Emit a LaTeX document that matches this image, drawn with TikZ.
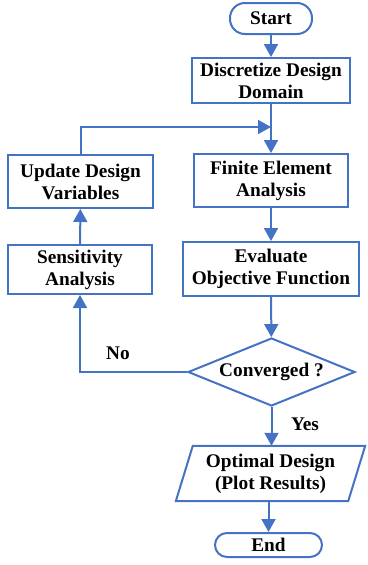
\documentclass[tikz,border=0pt]{standalone}
\usepackage{fontspec}
\setmainfont{Liberation Serif}
\usetikzlibrary{arrows.meta,shapes.geometric,calc}
\definecolor{flowblue}{RGB}{68,114,196}
\begin{document}
\begin{tikzpicture}[x=1pt,y=-1pt,
  every node/.style={font=\bfseries\fontsize{19.3}{22}\selectfont, align=center, inner sep=0pt},
  box/.style={draw=flowblue, line width=2pt, rectangle},
  term/.style={draw=flowblue, line width=2pt, rectangle, rounded corners=#1},
  dec/.style={draw=flowblue, line width=2pt, diamond, aspect=2.46},
  arr/.style={draw=flowblue, line width=2pt, -{Triangle[length=13pt,width=14pt]}},
  conn/.style={draw=flowblue, line width=2pt},
  lbl/.style={font=\bfseries\fontsize{19.3}{22}\selectfont}
]
\useasboundingbox (0,0) rectangle (367,565);
\node[term=15pt, minimum width=82pt, minimum height=31pt] (start) at (271,18.5) {Start};
\node[box, minimum width=158pt, minimum height=45pt] (disc) at (271,80.5) {Discretize Design\\Domain};
\node[box, minimum width=154pt, minimum height=53pt] (fea) at (271,180.5) {Finite Element\\Analysis};
\node[box, minimum width=176pt, minimum height=54pt] (eval) at (271,269) {Evaluate\\Objective Function};
\node[box, minimum width=145pt, minimum height=53pt] (upd) at (80.5,181.5) {Update Design\\Variables};
\node[box, minimum width=144pt, minimum height=49pt] (sens) at (80,269.5) {Sensitivity\\Analysis};
\node[dec, minimum width=167pt, minimum height=68pt] (conv) at (271.5,372) {Converged ?};
\node[minimum width=189pt, minimum height=55pt] (opt) at (270.5,473.5) {Optimal Design\\(Plot Results)};
\draw[conn] ($(opt.north west)+(17,0)$) -- (opt.north east) -- ($(opt.south east)+(-17,0)$) -- (opt.south west) -- cycle;
\node[term=12pt, minimum width=107pt, minimum height=24pt] (end) at (268.5,545) {End};
\coordinate (merge) at (271,127);
\draw[arr] (start) -- (disc);
\draw[arr] (disc) -- (fea);
\draw[arr] (upd.north) |- (merge);
\draw[arr] (sens) -- (upd);
\draw[arr] (fea) -- (eval);
\draw[arr] (eval) -- (conv);
\draw[arr] (conv.west) -| (sens.south);
\draw[arr] (conv.south) -- (conv.south |- opt.north);
\draw[arr] (end.north |- opt.south) -- (end.north);
\node[lbl] (no) at (118,353) {No};
\node[lbl] (yes) at (305,424) {Yes};
\end{tikzpicture}
\end{document}
